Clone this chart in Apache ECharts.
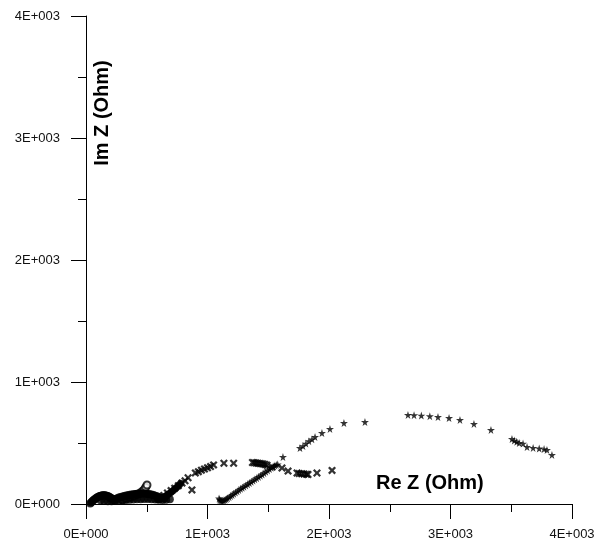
<!DOCTYPE html>
<html>
<head>
<meta charset="utf-8">
<script src="https://cdn.jsdelivr.net/npm/echarts@6/dist/echarts.min.js"></script>
<style>
  html, body { margin: 0; padding: 0; background: #fff; }
  #chart { width: 603px; height: 547px; }
</style>
</head>
<body>
<div id="chart"></div>
<script>
// tick labels (0 .. 4000 step 1000)
const tickLabels = ["0E+000", "1E+003", "2E+003", "3E+003", "4E+003"];

// open circles (drawn first, mostly buried in the blob)
const re3 = [300, 330, 360, 390, 420, 445, 465, 480, 492, 502];
const im3 = [35, 45, 55, 65, 78, 90, 105, 120, 138, 156];

// small arc near the origin
const re1 = [35, 42, 50, 58, 66, 74, 82, 90, 98, 106, 114, 122, 130, 138, 146, 154, 162, 170, 178, 186, 194, 202, 210, 218, 226, 234];
const im1 = [5, 12, 20, 28, 35, 42, 48, 53, 58, 62, 65, 68, 70, 71, 72, 71, 70, 68, 65, 61, 57, 52, 47, 42, 38, 35];

// second small arc
const re2 = [225, 235, 245, 258, 270, 285, 300, 315, 330, 345, 360, 375, 390, 405, 420, 435, 450, 465, 480, 495,
  510, 525, 540, 555, 570, 585, 600, 615, 630, 645];
const im2 = [30, 36, 42, 48, 53, 58, 62, 66, 69, 72, 75, 78, 80, 82, 84, 85, 86, 86, 86, 85,
  83, 80, 77, 73, 68, 63, 57, 52, 48, 45];

// low band hugging the axis
const re8 = [120, 150, 180, 210, 240, 270, 300, 330, 360, 390, 420, 450, 480, 510, 540, 570, 600, 630, 660, 690];
const im8 = [30, 25, 22, 22, 24, 27, 30, 33, 35, 37, 38, 39, 40, 40, 39, 37, 35, 33, 34, 38];

// dense rising part
const re4 = [590, 600, 610, 620, 630, 640, 650, 660, 670, 680, 690, 700, 710, 720, 730, 740, 750, 760, 770, 780];
const im4 = [35, 38, 42, 46, 51, 56, 62, 68, 75, 82, 89, 96, 104, 113, 122, 131, 140, 150, 160, 170];

// crosses, first arc
const re5 = [640, 670, 700, 730, 760, 790, 815, 840, 872, 900, 925, 950, 975, 1000, 1025, 1050, 1135, 1215];
const im5 = [70, 90, 110, 130, 150, 172, 190, 215, 115, 255, 265, 277, 287, 297, 307, 320, 334, 334];

// crosses, second arc
const re6 = [1370, 1385, 1400, 1415, 1430, 1445, 1460, 1475, 1490, 1531, 1613, 1663, 1737, 1755, 1775, 1795, 1815, 1827, 1901, 2025];
const im6 = [340, 338, 336, 334, 332, 330, 327, 323, 318, 303, 295, 270, 254, 250, 248, 246, 244, 242, 254, 275];

// stars, large arc
const re7 = [1095, 1100, 1108, 1116, 1125, 1135, 1145, 1155, 1165, 1178, 1190, 1203, 1216, 1230, 1244, 1258, 1272, 1286,
  1300, 1315, 1330, 1345, 1360, 1375, 1390, 1405, 1420, 1435, 1450, 1465, 1480, 1495, 1510, 1525, 1540, 1555, 1567, 1578,
  1621, 1761, 1786, 1810, 1835, 1860, 1885, 1942, 2008, 2123, 2296, 2650, 2700, 2760, 2830, 2897, 2988, 3078, 3193, 3333,
  3506, 3525, 3545, 3565, 3597, 3630, 3680, 3730, 3770, 3794, 3835];
const im7 = [45, 35, 28, 26, 27, 30, 35, 41, 48, 56, 65, 74, 84, 94, 104, 114, 124, 133,
  142, 152, 162, 172, 182, 192, 202, 212, 222, 232, 242, 253, 264, 275, 286, 297, 307, 315, 320, 325,
  385, 459, 475, 495, 515, 530, 549, 582, 615, 664, 672, 730, 728, 725, 720, 713, 705, 689, 656, 607,
  533, 520, 510, 500, 495, 467, 460, 455, 450, 443, 402];

const starPath = "path://M50,0 L61,35 L98,35 L68,57 L79,91 L50,70 L21,91 L32,57 L2,35 L39,35 Z";
const crossPath = "path://M0,2 L2,0 L5,3 L8,0 L10,2 L7,5 L10,8 L8,10 L5,7 L2,10 L0,8 L3,5 Z";

function pairs(re, im) {
  return re.map(function (x, i) { return [x, im[i]]; });
}

function makeSeries(re, im, symbol, size) {
  return {
    type: "scatter",
    data: pairs(re, im),
    symbol: symbol,
    symbolSize: size,
    itemStyle: { color: "#000", borderColor: "#000", borderWidth: symbol === "emptyCircle" ? 1.2 : 0 }
  };
}

const chart = echarts.init(document.getElementById("chart"));

const axisCommon = {
  type: "value",
  min: 0,
  max: 4000,
  interval: 1000,
  axisLine: { show: true, lineStyle: { color: "#000", width: 1 } },
  axisTick: { show: true, inside: false, length: 15, lineStyle: { color: "#000", width: 1 } },
  minorTick: { show: true, splitNumber: 2, length: 8, lineStyle: { color: "#000", width: 1 } },
  splitLine: { show: false },
  axisLabel: {
    color: "#111",
    fontFamily: "Liberation Sans, Arial, sans-serif",
    fontSize: 13,
    formatter: function (v) { return tickLabels[Math.round(v / 1000)]; }
  }
};

const option = {
  animation: false,
  backgroundColor: "#fff",
  grid: { left: 86, right: 31, top: 16, bottom: 43, containLabel: false },
  xAxis: Object.assign({}, axisCommon, {
    axisLabel: Object.assign({}, axisCommon.axisLabel, { margin: 24 })
  }),
  yAxis: Object.assign({}, axisCommon, {
    axisLabel: Object.assign({}, axisCommon.axisLabel, { margin: 26 })
  }),
  graphic: [
    {
      type: "text",
      left: 376,
      top: 473,
      style: {
        text: "Re Z (Ohm)",
        fill: "#000",
        font: "bold 20px 'Liberation Sans', Arial, sans-serif"
      }
    },
    {
      type: "text",
      x: 102,
      y: 113,
      rotation: Math.PI / 2,
      style: {
        text: "Im Z (Ohm)",
        fill: "#000",
        align: "center",
        verticalAlign: "middle",
        font: "bold 20px 'Liberation Sans', Arial, sans-serif"
      }
    }
  ],
  series: [
    makeSeries(re3, im3, "emptyCircle", 7),
    makeSeries(re8, im8, "circle", 8),
    makeSeries(re1, im1, "circle", 8),
    makeSeries(re2, im2, "circle", 8),
    makeSeries(re4, im4, "circle", 7),
    makeSeries(re5, im5, crossPath, 8),
    makeSeries(re6, im6, crossPath, 8),
    makeSeries(re7, im7, starPath, 8)
  ]
};

chart.setOption(option);
</script>
</body>
</html>
